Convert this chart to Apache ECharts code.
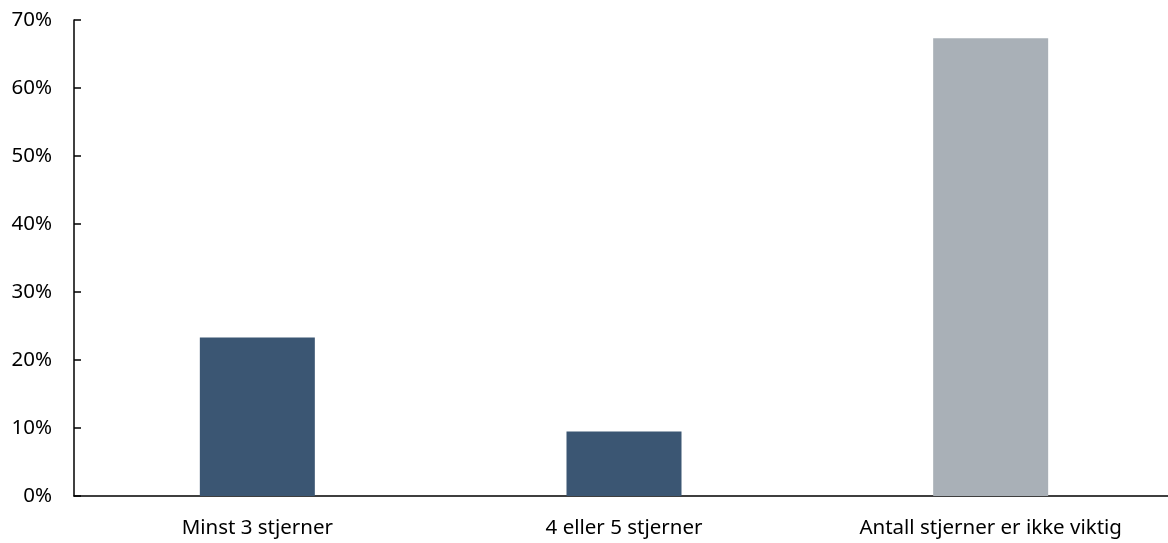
<!DOCTYPE html>
<html>
<head>
<meta charset="utf-8">
<script src="https://cdn.jsdelivr.net/npm/echarts@6/dist/echarts.min.js"></script>
<style>
  html, body { margin: 0; padding: 0; background: #ffffff; }
  #chart { width: 1168px; height: 543px; }
</style>
</head>
<body>
<div id="chart"></div>
<script>
// Share of respondents by hotel star requirement (%)
const categories = ['Minst 3 stjerner', '4 eller 5 stjerner', 'Antall stjerner er ikke viktig'];
const shares = [23.3, 9.5, 67.3];
const barColors = ['#3b5673', '#3b5673', '#a9b0b7'];
const yTicks = { min: 0, max: 70, step: 10 };

const fontFamily = '"Noto Sans", "Open Sans", sans-serif';

const chart = echarts.init(document.getElementById('chart'), null, { renderer: 'canvas' });
chart.setOption({
  animation: false,
  grid: { left: 74, width: 1100, top: 20, height: 476, containLabel: false, outerBoundsMode: 'none' },
  xAxis: {
    type: 'category',
    data: categories,
    axisLine: { show: true, lineStyle: { color: '#000000', width: 1.5 } },
    axisTick: { show: false },
    axisLabel: { color: '#000000', fontSize: 20.5, fontFamily: fontFamily, margin: 22, interval: 0 }
  },
  yAxis: {
    type: 'value',
    min: yTicks.min,
    max: yTicks.max,
    interval: yTicks.step,
    splitLine: { show: false },
    axisLine: { show: true, lineStyle: { color: '#000000', width: 1.5 } },
    axisTick: { show: true, inside: true, length: 7, lineStyle: { color: '#000000', width: 1.5 } },
    axisLabel: {
      color: '#000000', fontSize: 20.5, fontFamily: fontFamily, margin: 22,
      formatter: v => v + '%'
    }
  },
  series: [{
    type: 'bar',
    data: shares.map((v, i) => ({ value: v, itemStyle: { color: barColors[i] } })),
    barWidth: 115
  }]
});
</script>
</body>
</html>
